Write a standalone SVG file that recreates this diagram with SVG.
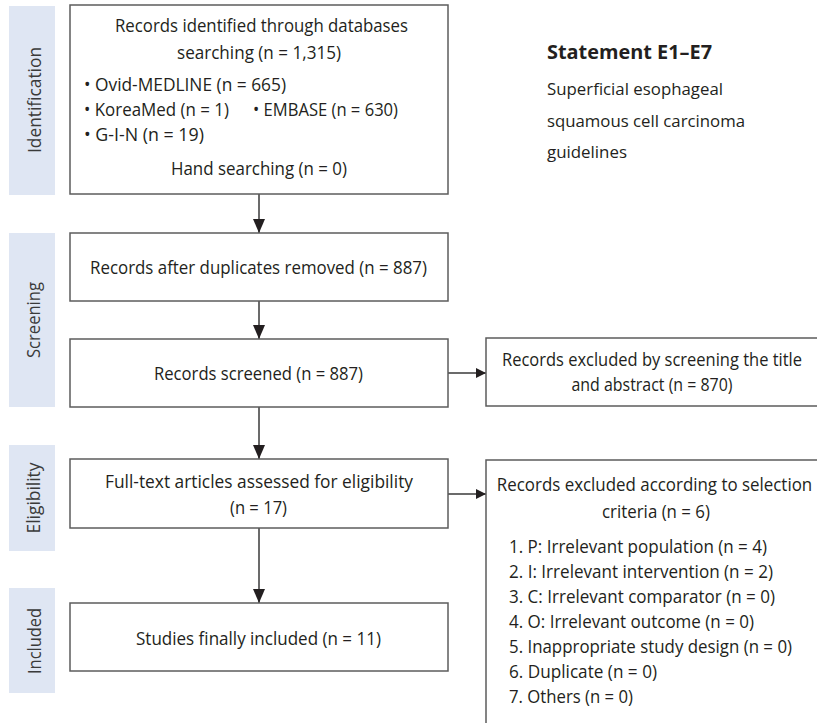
<svg xmlns="http://www.w3.org/2000/svg" width="817" height="723" viewBox="0 0 817 723">
<defs>
<style>
.band{fill:#dfe6f3;}
.box{fill:#ffffff;stroke:#5c5c5c;stroke-width:1.5;}
.t{font-family:"Open Sans","Noto Sans","Liberation Sans",sans-serif;font-size:18px;fill:#231f20;}
.s{font-family:"Open Sans","Noto Sans","Liberation Sans",sans-serif;font-size:17px;fill:#231f20;}
.b{font-family:"Open Sans","Noto Sans","Liberation Sans",sans-serif;font-size:19px;font-weight:bold;fill:#231f20;}
.side{font-family:"Open Sans","Noto Sans","Liberation Sans",sans-serif;font-size:18px;fill:#3a3a3a;text-anchor:middle;}
.c{text-anchor:middle;}
.conn{stroke:#3a3a3a;stroke-width:1.5;fill:none;}
</style>
<marker id="ah" viewBox="0 0 10 10" refX="10" refY="5" markerWidth="11" markerHeight="10" markerUnits="userSpaceOnUse" orient="auto">
<path d="M0,0 L10,5 L0,10 z" fill="#231f20"/>
</marker>
<marker id="av" viewBox="0 0 14 12" refX="14" refY="6" markerWidth="14" markerHeight="12" markerUnits="userSpaceOnUse" orient="auto">
<path d="M0,0 L14,6 L0,12 z" fill="#231f20"/>
</marker>
</defs>
<rect width="817" height="723" fill="#ffffff"/>

<g id="stages">
<rect class="band" x="9" y="6" width="46" height="189"/>
<text class="side" transform="translate(41,100) rotate(-90)" textLength="106" lengthAdjust="spacingAndGlyphs">Identification</text>
<rect class="band" x="9" y="233" width="46" height="174"/>
<text class="side" transform="translate(40,320) rotate(-90)" textLength="76" lengthAdjust="spacingAndGlyphs">Screening</text>
<rect class="band" x="9" y="445" width="46" height="106"/>
<text class="side" transform="translate(40,498) rotate(-90)" textLength="71" lengthAdjust="spacingAndGlyphs">Eligibility</text>
<rect class="band" x="9" y="588" width="46" height="105"/>
<text class="side" transform="translate(41,641) rotate(-90)" textLength="66" lengthAdjust="spacingAndGlyphs">Included</text>
</g>

<g id="statement">
<text class="b" x="547" y="59" textLength="165" lengthAdjust="spacingAndGlyphs">Statement E1–E7</text>
<text class="s" x="547" y="95" textLength="176" lengthAdjust="spacingAndGlyphs">Superficial esophageal</text>
<text class="s" x="547" y="127" textLength="198" lengthAdjust="spacingAndGlyphs">squamous cell carcinoma</text>
<text class="s" x="547" y="158" textLength="80" lengthAdjust="spacingAndGlyphs">guidelines</text>
</g>

<g id="connectors">
<line class="conn" x1="259" y1="194" x2="259" y2="233" marker-end="url(#av)"/>
<line class="conn" x1="259" y1="301" x2="259" y2="339" marker-end="url(#av)"/>
<line class="conn" x1="259" y1="407" x2="259" y2="459" marker-end="url(#av)"/>
<line class="conn" x1="259" y1="528" x2="259" y2="603" marker-end="url(#av)"/>
<line class="conn" x1="448" y1="373" x2="486" y2="373" marker-end="url(#ah)"/>
<line class="conn" x1="448" y1="494" x2="486" y2="494" marker-end="url(#ah)"/>
</g>

<g id="identified">
<rect class="box" x="70" y="5" width="378" height="189"/>
<text class="t c" x="261.5" y="32" textLength="293" lengthAdjust="spacingAndGlyphs">Records identified through databases</text>
<text class="t c" x="259" y="59" textLength="164" lengthAdjust="spacingAndGlyphs">searching (n = 1,315)</text>
<text class="t" x="84" y="91" textLength="202" lengthAdjust="spacingAndGlyphs">• Ovid-MEDLINE (n = 665)</text>
<text class="t" x="84" y="116" textLength="145" lengthAdjust="spacingAndGlyphs">• KoreaMed (n = 1)</text>
<text class="t" x="253" y="116" textLength="145" lengthAdjust="spacingAndGlyphs">• EMBASE (n = 630)</text>
<text class="t" x="84" y="141" textLength="120" lengthAdjust="spacingAndGlyphs">• G-I-N (n = 19)</text>
<text class="t c" x="259" y="175" textLength="176" lengthAdjust="spacingAndGlyphs">Hand searching (n = 0)</text>
</g>

<g id="duplicates">
<rect class="box" x="70" y="233" width="378" height="68"/>
<text class="t c" x="258.5" y="274" textLength="337" lengthAdjust="spacingAndGlyphs">Records after duplicates removed (n = 887)</text>
</g>

<g id="screened">
<rect class="box" x="70" y="339" width="378" height="68"/>
<text class="t c" x="258.5" y="380" textLength="209" lengthAdjust="spacingAndGlyphs">Records screened (n = 887)</text>
</g>

<g id="excluded-screening">
<path class="box" d="M817,338 H486 V406 H817"/>
<text class="t c" transform="translate(652,366) scale(0.85,1)" x="0" y="0" textLength="353" lengthAdjust="spacingAndGlyphs">Records excluded by screening the title</text>
<text class="t c" x="652" y="391" textLength="161" lengthAdjust="spacingAndGlyphs">and abstract (n = 870)</text>
</g>

<g id="fulltext">
<rect class="box" x="70" y="459" width="378" height="69"/>
<text class="t c" x="259" y="488" textLength="308" lengthAdjust="spacingAndGlyphs">Full-text articles assessed for eligibility</text>
<text class="t c" x="258.5" y="514" textLength="57" lengthAdjust="spacingAndGlyphs">(n = 17)</text>
</g>

<g id="excluded-criteria">
<path class="box" d="M817,460 H486 V723"/>
<text class="t c" transform="translate(654.5,491) scale(0.85,1)" x="0" y="0" textLength="371" lengthAdjust="spacingAndGlyphs">Records excluded according to selection</text>
<text class="t c" x="656" y="518" textLength="108" lengthAdjust="spacingAndGlyphs">criteria (n = 6)</text>
<text class="t" x="509" y="553" textLength="258" lengthAdjust="spacingAndGlyphs">1. P: Irrelevant population (n = 4)</text>
<text class="t" x="509" y="578" textLength="264" lengthAdjust="spacingAndGlyphs">2. I: Irrelevant intervention (n = 2)</text>
<text class="t" x="509" y="603" textLength="266" lengthAdjust="spacingAndGlyphs">3. C: Irrelevant comparator (n = 0)</text>
<text class="t" x="509" y="628" textLength="245" lengthAdjust="spacingAndGlyphs">4. O: Irrelevant outcome (n = 0)</text>
<text class="t" x="509" y="653" textLength="283" lengthAdjust="spacingAndGlyphs">5. Inappropriate study design (n = 0)</text>
<text class="t" x="509" y="678" textLength="148" lengthAdjust="spacingAndGlyphs">6. Duplicate (n = 0)</text>
<text class="t" x="509" y="703" textLength="124" lengthAdjust="spacingAndGlyphs">7. Others (n = 0)</text>
</g>

<g id="included">
<rect class="box" x="70" y="603" width="378" height="68"/>
<text class="t c" x="258.5" y="645" textLength="245" lengthAdjust="spacingAndGlyphs">Studies finally included (n = 11)</text>
</g>
</svg>
